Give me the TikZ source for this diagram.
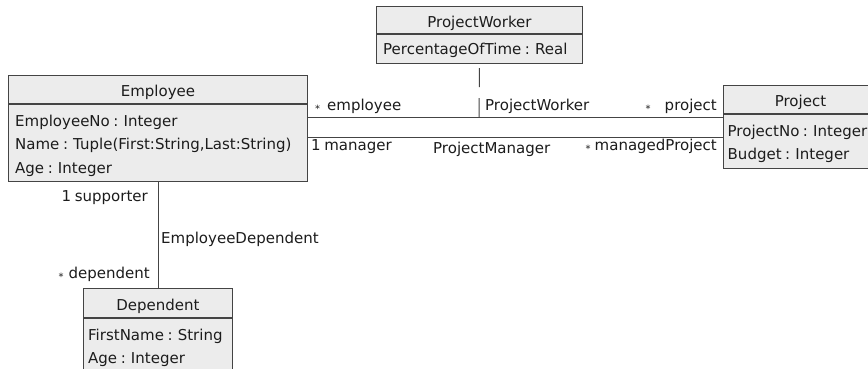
\documentclass[tikz,border=0pt]{standalone}
\usepackage{fontspec}
\setmainfont[WordSpace=0.75]{DejaVu Sans}
\definecolor{umlline}{RGB}{68,68,68}
\definecolor{umlfill}{RGB}{236,236,236}
\definecolor{umltext}{RGB}{28,28,28}
% small lowered asterisk for "many" multiplicities
\newcommand{\umlmany}{\raisebox{-2pt}{\fontsize{10}{10}\selectfont *}}
\tikzset{
  umlfont/.style={font=\fontsize{15}{18}\selectfont, text=umltext},
  classhead/.style={draw=umlline, fill=umlfill, line width=1pt, inner sep=0pt,
    text height=14pt, text depth=0pt, anchor=north west, umlfont},
  classbody/.style={draw=umlline, fill=umlfill, line width=1pt, inner sep=0pt,
    anchor=north west},
  attr/.style={anchor=base west, inner sep=0pt, umlfont},
  role/.style={inner sep=0pt, umlfont},
  assoc/.style={draw=umlline, line width=1pt},
}
\begin{document}
\begin{tikzpicture}[x=1pt,y=-1pt]
\clip (0,0) rectangle (868,368);
\fill[white] (0,0) rectangle (868,368);

% Employee
\node[classhead, minimum width=299pt, minimum height=28pt] (emp) at (8,75) {Employee};
\node[classbody, minimum width=299pt, minimum height=77pt] (emp-body) at (emp.south west) {};
\node[attr] (emp-a1) at (15,126) {EmployeeNo : Integer};
\node[attr] (emp-a2) at (15,149.5) {Name : Tuple(First:String,Last:String)};
\node[attr] (emp-a3) at (15,173) {Age : Integer};

% ProjectWorker (association class)
\node[classhead, minimum width=206pt, minimum height=27pt] (pw) at (376,6) {ProjectWorker};
\node[classbody, minimum width=206pt, minimum height=29pt] (pw-body) at (pw.south west) {};
\node[attr] (pw-a1) at (383,54) {PercentageOfTime : Real};

% Project
\node[classhead, minimum width=154pt, minimum height=28pt] (proj) at (723,85) {Project};
\node[classbody, minimum width=154pt, minimum height=54pt] (proj-body) at (proj.south west) {};
\node[attr] (proj-a1) at (727.5,136) {ProjectNo : Integer};
\node[attr] (proj-a2) at (727.5,159) {Budget : Integer};

% Dependent
\node[classhead, minimum width=149pt, minimum height=29pt] (dep) at (83,288) {Dependent};
\node[classbody, minimum width=149pt, minimum height=60pt] (dep-body) at (dep.south west) {};
\node[attr] (dep-a1) at (88,340) {FirstName : String};
\node[attr] (dep-a2) at (88,363) {Age : Integer};

% associations
\coordinate (pwj) at (479,117);
\coordinate (pmj) at ([yshift=-33pt]emp-body.north east);
\draw[assoc] (emp-body.east |- pwj) -- (proj-body.west |- pwj);
\draw[assoc] (pmj) -- (proj-body.west |- pmj);
\draw[assoc, dash pattern=on 19pt off 11pt] (pwj) -- (pw-body.south);
\draw[assoc] (emp-body.south) -- (dep.north);

% association and role labels
\node[role, anchor=base west] (r-emp) at (315,110) {\umlmany\hspace{7pt}employee};
\node[role, anchor=base west] (l-pw) at (485,110) {ProjectWorker};
\node[role, anchor=base east] (r-proj) at (717,110) {\umlmany\hspace{14pt}project};
\node[role, anchor=base west] (r-mgr) at (311,150) {1 manager};
\node[role, anchor=base west] (l-pm) at (433,153) {ProjectManager};
\node[role, anchor=base east] (r-mproj) at (717,150) {\umlmany\hspace{4pt}managedProject};
\node[role, anchor=base east] (r-sup) at (148,201) {1 supporter};
\node[role, anchor=base west] (l-ed) at (161,243) {EmployeeDependent};
\node[role, anchor=base east] (r-dep) at (150,278) {\umlmany\hspace{5pt}dependent};
\end{tikzpicture}
\end{document}
